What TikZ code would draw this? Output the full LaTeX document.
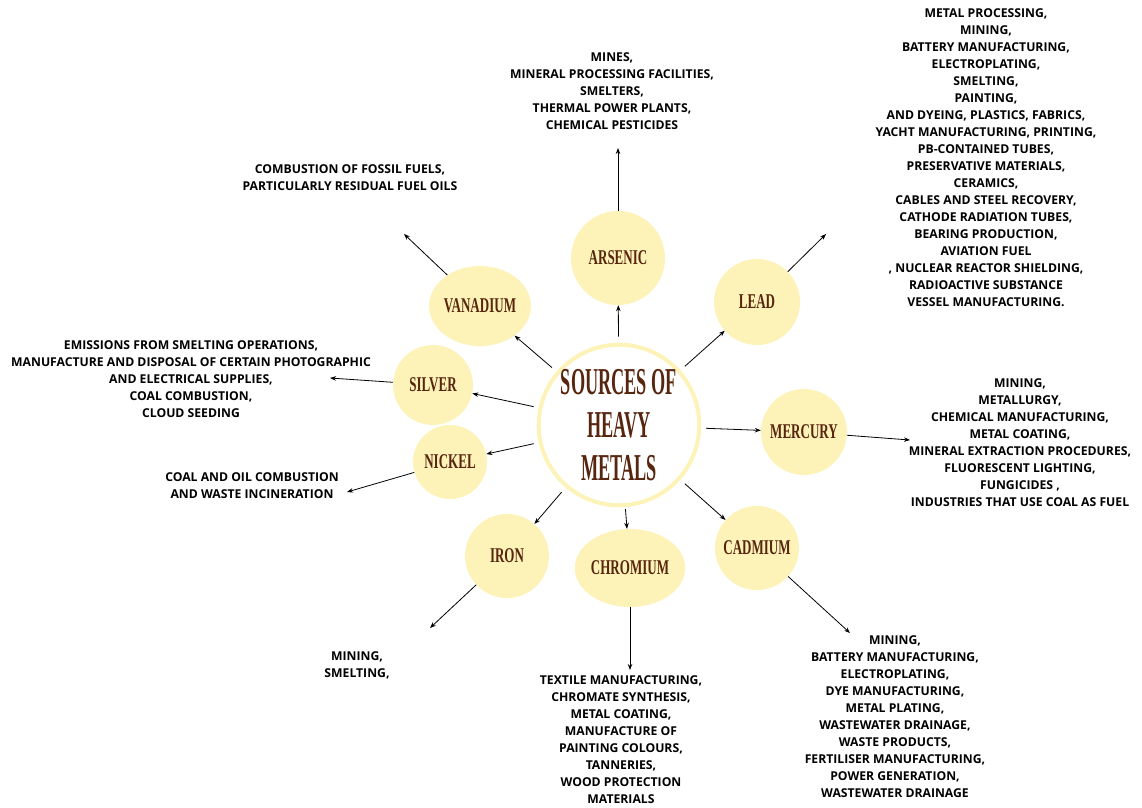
\documentclass[tikz,border=0pt]{standalone}
\usepackage{fontspec}
\usetikzlibrary{arrows.meta,shapes.geometric}
\setmainfont{Open Sans}
\newfontfamily\metalfont[FakeStretch=0.62]{Liberation Serif}
\newfontfamily\hubfont[FakeStretch=0.48]{Liberation Serif}
\definecolor{metalfill}{HTML}{FDF3B8}
\definecolor{metalbrown}{HTML}{58260F}

\begin{document}
\begin{tikzpicture}[x=1pt,y=-1pt]
  \useasboundingbox (0,0) rectangle (1142,807);

  % hub
  \node[circle, draw=metalfill, line width=4pt, fill=white, minimum size=158pt,
        inner sep=0pt, align=center, text=metalbrown,
        font=\hubfont\bfseries\fontsize{38}{43}\selectfont] (hub) at (619,425)
        {SOURCES OF\\HEAVY\\METALS};

  % metals
  \begin{scope}[every node/.style={circle,fill=metalfill,text=metalbrown,inner sep=0pt,
                font=\metalfont\bfseries\fontsize{21}{24}\selectfont}]
    \node[minimum size=94pt] (arsenic)  at (618,258) {ARSENIC};
    \node[minimum size=86pt] (lead)     at (757,302) {LEAD};
    \node[minimum size=86pt] (mercury)  at (804,432) {MERCURY};
    \node[minimum size=84pt] (cadmium)  at (757,548) {CADMIUM};
    \node[ellipse,minimum width=100pt,minimum height=78pt] (chromium) at (630,568) {CHROMIUM};
    \node[minimum size=84pt] (iron)     at (507,556) {IRON};
    \node[minimum size=74pt] (nickel)   at (450,462) {NICKEL};
    \node[minimum size=80pt] (silver)   at (433,385) {SILVER};
    \node[ellipse,minimum width=90pt,minimum height=80pt] (vanadium) at (480,306) {VANADIUM};
  \end{scope}

  % arrow ends
  \coordinate (arsenic-end)  at (618,148);
  \coordinate (lead-end)     at (826,234);
  \coordinate (mercury-end)  at (910,440);
  \coordinate (cadmium-end)  at (850,633);
  \coordinate (chromium-end) at (630,670);
  \coordinate (iron-end)     at (430,628);
  \coordinate (nickel-end)   at (347,492);
  \coordinate (silver-end)   at (330,378);
  \coordinate (vanadium-end) at (404,234);

  % sources
  \begin{scope}[every node/.style={align=center,inner sep=0pt,
                font=\bfseries\fontsize{12.2}{17}\selectfont}]
    \node (arsenic-src) at (612,91) {MINES,\\MINERAL PROCESSING FACILITIES,\\SMELTERS,\\THERMAL POWER PLANTS,\\CHEMICAL PESTICIDES};
    \node (lead-src) at (986,158) {METAL PROCESSING,\\MINING,\\BATTERY MANUFACTURING,\\ELECTROPLATING,\\SMELTING,\\PAINTING,\\AND DYEING, PLASTICS, FABRICS,\\YACHT MANUFACTURING, PRINTING,\\PB-CONTAINED TUBES,\\PRESERVATIVE MATERIALS,\\CERAMICS,\\CABLES AND STEEL RECOVERY,\\CATHODE RADIATION TUBES,\\BEARING PRODUCTION,\\AVIATION FUEL\\, NUCLEAR REACTOR SHIELDING,\\RADIOACTIVE SUBSTANCE\\VESSEL MANUFACTURING.};
    \node (mercury-src) at (1020,443) {MINING,\\METALLURGY,\\CHEMICAL MANUFACTURING,\\METAL COATING,\\MINERAL EXTRACTION PROCEDURES,\\FLUORESCENT LIGHTING,\\FUNGICIDES ,\\INDUSTRIES THAT USE COAL AS FUEL};
    \node (cadmium-src) at (895,717) {MINING,\\BATTERY MANUFACTURING,\\ELECTROPLATING,\\DYE MANUFACTURING,\\METAL PLATING,\\WASTEWATER DRAINAGE,\\WASTE PRODUCTS,\\FERTILISER MANUFACTURING,\\POWER GENERATION,\\WASTEWATER DRAINAGE};
    \node (chromium-src) at (621,740) {TEXTILE MANUFACTURING,\\CHROMATE SYNTHESIS,\\METAL COATING,\\MANUFACTURE OF\\PAINTING COLOURS,\\TANNERIES,\\WOOD PROTECTION\\MATERIALS};
    \node (iron-src) at (357,665) {MINING,\\SMELTING,};
    \node (nickel-src) at (252,486) {COAL AND OIL COMBUSTION\\AND WASTE INCINERATION};
    \node (silver-src) at (191,379) {EMISSIONS FROM SMELTING OPERATIONS,\\MANUFACTURE AND DISPOSAL OF CERTAIN PHOTOGRAPHIC\\AND ELECTRICAL SUPPLIES,\\COAL COMBUSTION,\\CLOUD SEEDING};
    \node (vanadium-src) at (350,178) {COMBUSTION OF FOSSIL FUELS,\\PARTICULARLY RESIDUAL FUEL OILS};
  \end{scope}

  \begin{scope}[every edge/.style={draw,line width=0.8pt,-{Stealth[length=6pt,width=4.5pt]}}]
    \path (hub) edge[shorten <=6pt] (arsenic);
    \path (hub) edge[shorten <=6pt] (lead);
    \path (hub) edge[shorten <=5pt] (mercury);
    \path (hub) edge[shorten <=6pt] (cadmium);
    \path (hub) edge[shorten <=2pt] (chromium);
    \path (hub) edge[shorten <=6pt] (iron);
    \path (hub) edge[shorten <=5pt] (nickel);
    \path (hub) edge[shorten <=5pt] (silver);
    \path (hub) edge[shorten <=6pt] (vanadium);
    \path (arsenic)  edge (arsenic-end);
    \path (lead)     edge (lead-end);
    \path (mercury)  edge (mercury-end);
    \path (cadmium)  edge (cadmium-end);
    \path (chromium) edge (chromium-end);
    \path (iron)     edge (iron-end);
    \path (nickel)   edge (nickel-end);
    \path (silver)   edge (silver-end);
    \path (vanadium) edge (vanadium-end);
  \end{scope}

\end{tikzpicture}
\end{document}
